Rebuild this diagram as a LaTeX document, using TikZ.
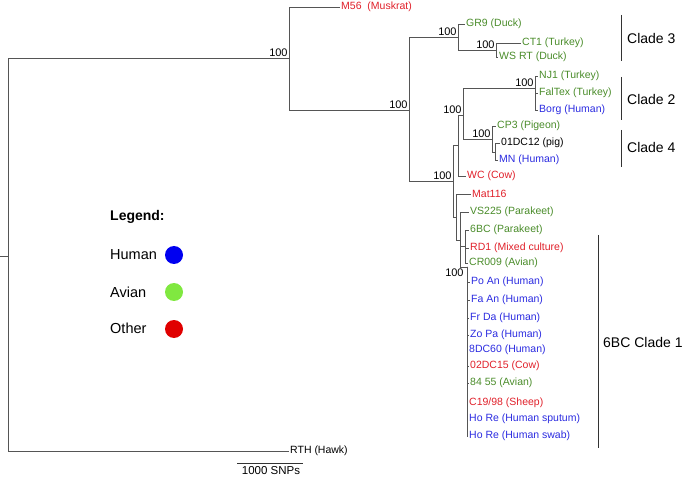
\documentclass[tikz,border=0pt]{standalone}
\usepackage{fontspec}
\setmainfont{Liberation Sans}
\definecolor{treegray}{HTML}{555555}
\definecolor{lgreen}{HTML}{4A8C2A}
\definecolor{lred}{HTML}{E0202A}
\definecolor{lblue}{HTML}{2B2BE0}
\definecolor{cblue}{HTML}{0000F0}
\definecolor{cgreen}{HTML}{80E840}
\definecolor{cred}{HTML}{E00000}
\tikzset{
  branch/.style={draw=treegray, line width=0.9pt},
  leaf/.style={anchor=west, inner sep=1pt, font=\fontsize{10.5}{12}\selectfont},
  boot/.style={anchor=south east, inner sep=1.2pt, font=\fontsize{11}{12}\selectfont},
  cladebar/.style={draw=black!80, line width=0.9pt},
  cladetxt/.style={anchor=west, inner sep=0pt, font=\fontsize{14}{16}\selectfont},
  legtxt/.style={anchor=west, inner sep=0pt, font=\fontsize{14.5}{16}\selectfont},
  legdot/.style={circle, minimum size=18pt, inner sep=0pt}
}
\begin{document}
\begin{tikzpicture}[x=1pt,y=-1pt]
\useasboundingbox (0,0) rectangle (685,478);
% internal nodes
\coordinate (R0) at (0,256);
\coordinate (R) at (8,256);
\coordinate (N1) at (289,58);
\coordinate (N2) at (409,110);
\coordinate (N3) at (458,37);
\coordinate (N4) at (496,50);
\coordinate (N5) at (453,181);
\coordinate (N6) at (458,145);
\coordinate (N7) at (463,115);
\coordinate (N8) at (535,88);
\coordinate (N10) at (492,139);
\coordinate (N11) at (495,152);
\coordinate (N9) at (456,217);
\coordinate (N12) at (460,240);
\coordinate (N14) at (465,246);
\coordinate (NJ) at (467,267);
% leaves
\node[leaf, text=lred] (M56) at (340,7) {M56\ \ (Muskrat)};
\node[leaf, text=lgreen] (GR9) at (465,24) {GR9 (Duck)};
\node[leaf, text=lgreen] (CT1) at (521,43) {CT1 (Turkey)};
\node[leaf, text=lgreen] (WSRT) at (498,57) {WS RT (Duck)};
\node[leaf, text=lgreen] (NJ1) at (538,76) {NJ1 (Turkey)};
\node[leaf, text=lgreen] (FalTex) at (538,93) {FalTex (Turkey)};
\node[leaf, text=lblue] (Borg) at (538,110) {Borg (Human)};
\node[leaf, text=lgreen] (CP3) at (496,126) {CP3 (Pigeon)};
\node[leaf, text=black] (DC12) at (500,143) {01DC12 (pig)};
\node[leaf, text=lblue] (MN) at (498,160) {MN (Human)};
\node[leaf, text=lred] (WC) at (466,176) {WC (Cow)};
\node[leaf, text=lred] (Mat) at (471,194) {Mat116};
\node[leaf, text=lgreen] (VS) at (469,212) {VS225 (Parakeet)};
\node[leaf, text=lgreen] (BC6) at (469,230) {6BC (Parakeet)};
\node[leaf, text=lred] (RD1) at (469,248) {RD1 (Mixed culture)};
\node[leaf, text=lgreen] (CR009) at (468,263) {CR009 (Avian)};
\node[leaf, text=lblue] (PoAn) at (470,282) {Po An (Human)};
\node[leaf, text=lblue] (FaAn) at (470,300) {Fa An (Human)};
\node[leaf, text=lblue] (FrDa) at (469,318) {Fr Da (Human)};
\node[leaf, text=lblue] (ZoPa) at (469,335) {Zo Pa (Human)};
\node[leaf, text=lblue] (DC60) at (468,350) {8DC60 (Human)};
\node[leaf, text=lred] (DC15) at (469,366) {02DC15 (Cow)};
\node[leaf, text=lgreen] (A8455) at (469,383) {84 55 (Avian)};
\node[leaf, text=lred] (C19) at (468,403) {C19/98 (Sheep)};
\node[leaf, text=lblue] (HoRe1) at (468,419) {Ho Re (Human sputum)};
\node[leaf, text=lblue] (HoRe2) at (468,436) {Ho Re (Human swab)};
\node[leaf, text=black] (RTH) at (289,451) {RTH (Hawk)};
% branches
\draw[branch] (R0) -- (R);
\draw[branch] (R) |- (N1);
\draw[branch] (R) |- (RTH.west);
\draw[branch] (N1) |- (M56.west);
\draw[branch] (N1) |- (N2);
\draw[branch] (N2) |- (N3);
\draw[branch] (N2) |- (N5);
\draw[branch] (N3) |- (GR9.west);
\draw[branch] (N3) |- (N4);
\draw[branch] (N4) |- (CT1.west);
\draw[branch] (N4) |- (WSRT.west);
\draw[branch] (N5) |- (N6);
\draw[branch] (N5) |- (N9);
\draw[branch] (N6) |- (N7);
\draw[branch] (N6) |- (WC.west);
\draw[branch] (N7) |- (N8);
\draw[branch] (N7) |- (N10);
\draw[branch] (N8) |- (NJ1.west);
\draw[branch] (N8) |- (FalTex.west);
\draw[branch] (N8) |- (Borg.west);
\draw[branch] (N10) |- (CP3.west);
\draw[branch] (N10) |- (N11);
\draw[branch] (N11) |- (DC12.west);
\draw[branch] (N11) |- (MN.west);
\draw[branch] (N9) |- (Mat.west);
\draw[branch] (N9) |- (N12);
\draw[branch] (N12) |- (VS.west);
\draw[branch] (N12) |- (N14);
\draw[branch] (N12) |- (NJ);
\draw[branch] (N14) |- (BC6.west);
\draw[branch] (N14) |- (RD1.west);
\draw[branch] (N14) |- (CR009.west);
\foreach \l in {PoAn,FaAn,FrDa,ZoPa,DC60,DC15,A8455,C19,HoRe1,HoRe2}
  \draw[branch] (NJ) |- (\l.west);
% bootstrap labels
\node[boot] (b1) at (N1 |- N1) {100};
\node[boot] (b2) at (N2) {100};
\node[boot] (b3) at (N3) {100};
\node[boot] (b4) at (N4) {100};
\node[boot] (b5) at (N5) {100};
\node[boot] (b7) at (N7) {100};
\node[boot] (b8) at (N8) {100};
\node[boot] (b10) at (N10) {100};
\node[anchor=north east, inner sep=1.2pt, font=\fontsize{11}{12}\selectfont] (bJ) at (465,267) {100};
% clade bars
\coordinate (c3a) at (621,15); \coordinate (c3b) at (621,61);
\coordinate (c2a) at (621,77); \coordinate (c2b) at (621,120);
\coordinate (c4a) at (621,130); \coordinate (c4b) at (621,167);
\coordinate (c1a) at (598,235); \coordinate (c1b) at (598,448);
\draw[cladebar] (c3a) -- (c3b);
\draw[cladebar] (c2a) -- (c2b);
\draw[cladebar] (c4a) -- (c4b);
\draw[cladebar] (c1a) -- (c1b);
\node[cladetxt] (L3) at (627,38) {Clade 3};
\node[cladetxt] (L2) at (627,99) {Clade 2};
\node[cladetxt] (L4) at (627,147) {Clade 4};
\node[cladetxt] (L1) at (603,342) {6BC Clade 1};
% legend
\node[anchor=west, inner sep=0pt, font=\fontsize{14}{16}\selectfont\bfseries] (leg) at (110,217) {Legend:};
\node[legtxt] (hum) at (110,255) {Human};
\node[legtxt] (avi) at (110,292) {Avian};
\node[legtxt] (oth) at (110,328) {Other};
\node[legdot, fill=cblue] (dh) at (174,255) {};
\node[legdot, fill=cgreen] (da) at (174,292) {};
\node[legdot, fill=cred] (do) at (174,329) {};
% scale bar
\coordinate (s1) at (237,463); \coordinate (s2) at (303,463);
\draw[draw=black!80, line width=0.9pt] (s1) -- (s2);
\node[inner sep=0pt, font=\fontsize{11.5}{13}\selectfont] (sb) at (271,471) {1000 SNPs};
\end{tikzpicture}
\end{document}
